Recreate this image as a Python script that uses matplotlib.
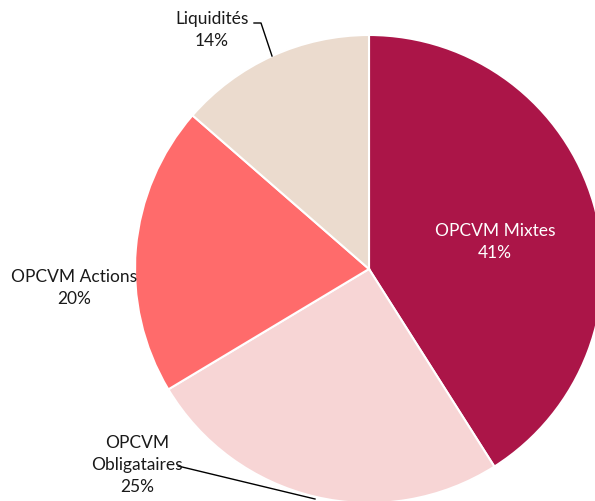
import numpy as np
import matplotlib.pyplot as plt

# Data (slice shares as drawn; labels show rounded values)
labels = ["OPCVM Mixtes", "OPCVM\nObligataires", "OPCVM Actions", "Liquidités"]
shares = [41.0, 25.4, 20.0, 13.6]
colors = ["#AB1548", "#F7D5D5", "#FF6B6B", "#EBDBCE"]

W, H = 595, 501
cx, cy, R = 369, 269, 234  # pie centre / radius in pixels (from top-left)

fig = plt.figure(figsize=(W / 100, H / 100), dpi=100)
ax = fig.add_axes([0, 0, 1, 1])

ax.pie(shares, colors=colors, startangle=90, counterclock=False,
       radius=1, center=(0, 0), frame=True,
       wedgeprops=dict(edgecolor="white", linewidth=1.5))
ax.set_xlim(-cx / R, (W - cx) / R)
ax.set_ylim(-(H - cy) / R, cy / R)
ax.set_aspect("equal")
ax.axis("off")


def px(x, y):
    return (x - cx) / R, (cy - y) / R


font = dict(family=["Lato", "DejaVu Sans"], fontsize=12.5, ha="center", va="center",
            linespacing=1.45)

# label positions in pixels
pos = [(495, 242), (137, 465), (74, 288), (212, 30)]
text_colors = ["white", "#1a1a1a", "#1a1a1a", "#1a1a1a"]
for lab, s, (x, y), c in zip(labels, shares, pos, text_colors):
    ax.text(*px(x, y), f"{lab}\n{round(s)}%", color=c, **font)

# leader lines
l1 = [px(254, 23), px(261, 23), px(272, 56)]
ax.plot([p[0] for p in l1], [p[1] for p in l1], color="black", lw=1)
l2 = [px(178, 466), px(315, 499)]
ax.plot([p[0] for p in l2], [p[1] for p in l2], color="black", lw=1)

fig.savefig("out.png", dpi=100)
